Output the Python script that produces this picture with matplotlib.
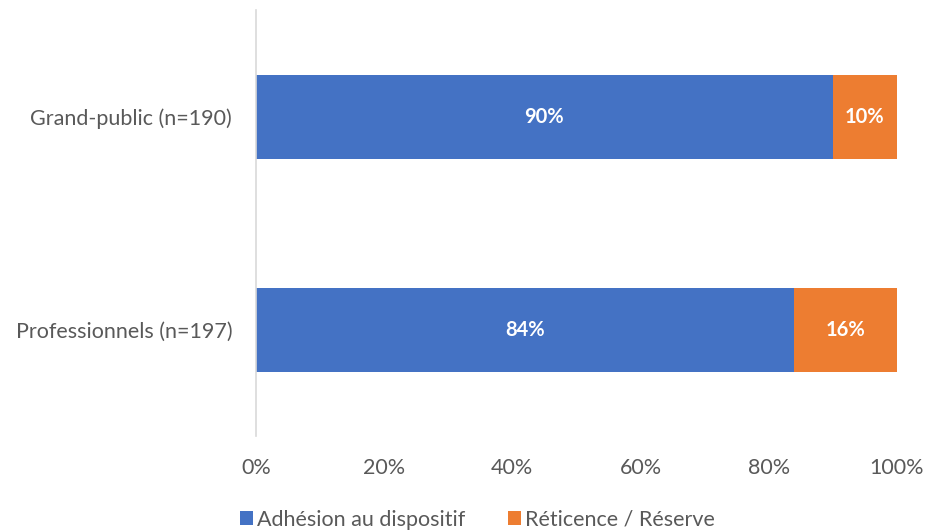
import matplotlib.pyplot as plt
import numpy as np

plt.rcParams['font.family'] = ['Lato', 'DejaVu Sans']

categories = ['Professionnels (n=197)', 'Grand-public (n=190)']
adhesion = [84, 90]
reticence = [16, 10]
series_names = ['Adhésion au dispositif', 'Réticence / Réserve']
colors = ['#4472C4', '#ED7D31']

fig = plt.figure(figsize=(9.27, 5.32), dpi=100)
ax = fig.add_axes([0.276, 0.18, 0.9676 - 0.276, 0.981 - 0.18])

y = np.arange(len(categories))
b1 = ax.barh(y, adhesion, height=0.395, color=colors[0], label=series_names[0])
b2 = ax.barh(y, reticence, left=adhesion, height=0.395, color=colors[1], label=series_names[1])

for bars in (b1, b2):
    for rect in bars:
        w = rect.get_width()
        ax.text(rect.get_x() + w / 2, rect.get_y() + rect.get_height() / 2, f'{w:.0f}%',
                ha='center', va='center', color='white', fontsize=14.5, fontweight='bold')

ax.set_xlim(0, 100)
ax.set_ylim(-0.5, 1.5)
ax.set_yticks(y)
ax.set_yticklabels(categories)
ax.set_xticks(np.arange(0, 101, 20))
ax.set_xticklabels([f'{v}%' for v in range(0, 101, 20)])
ax.tick_params(axis='both', length=0, colors='#595959', labelsize=15.5)
ax.tick_params(axis='y', pad=17)
ax.tick_params(axis='x', pad=16)
for s in ('top', 'right', 'bottom'):
    ax.spines[s].set_visible(False)
ax.spines['left'].set_color('#D9D9D9')
ax.spines['left'].set_linewidth(1.2)

fig.legend(loc='lower center', bbox_to_anchor=(0.515, -0.032), ncol=2, frameon=False,
           fontsize=15.5, labelcolor='#595959', handlelength=0.6, handleheight=0.6,
           handletextpad=0.2, columnspacing=2.0)

fig.savefig('out.png', dpi=100)
